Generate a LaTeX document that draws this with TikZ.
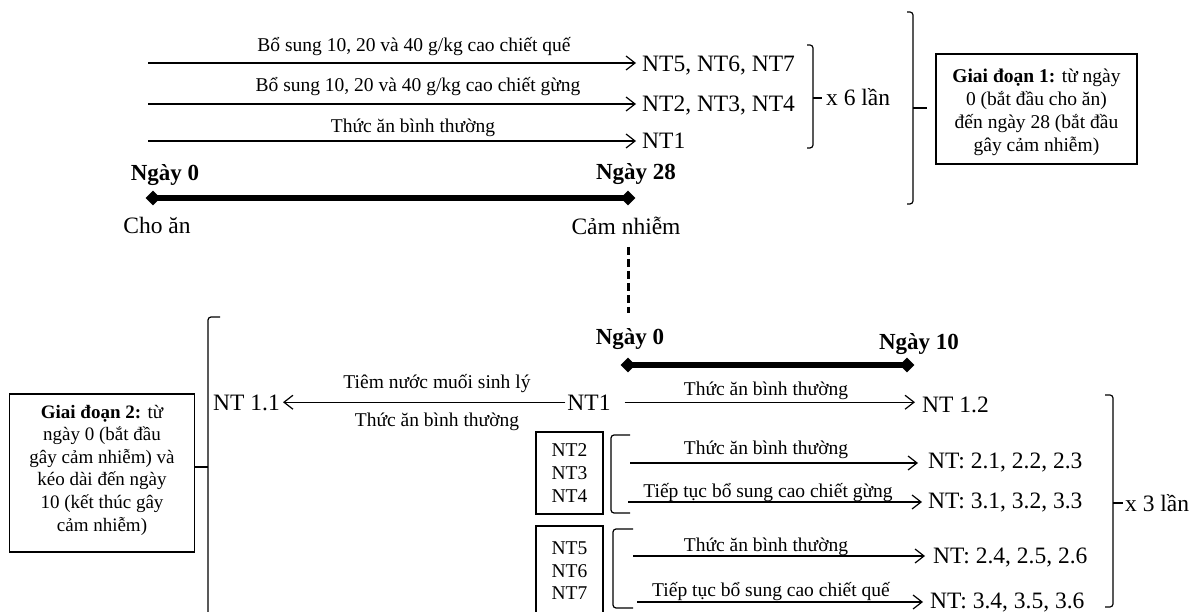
\documentclass[tikz,border=0pt]{standalone}
\usepackage{fontspec}
\setmainfont{Liberation Serif}
\usetikzlibrary{arrows.meta,shapes.geometric}
\newcommand\szA{\fontsize{23.5pt}{28pt}\selectfont}
\newcommand\szB{\fontsize{19.5pt}{22.6pt}\selectfont}
\newcommand\szD{\fontsize{19.5pt}{23pt}\selectfont}
\newcommand\szC{\fontsize{19pt}{22.6pt}\selectfont}
\newcommand\szN{\fontsize{23pt}{27pt}\selectfont\bfseries}
\begin{document}
\begin{tikzpicture}[x=1pt,y=-1pt,
  txt/.style={inner sep=0pt, font=\szA},
  lbl/.style={inner sep=0pt, font=\szB},
  day/.style={inner sep=0pt, font=\szN},
  flow/.style={line width=1.2pt, -{Straight Barb[length=9pt,width=14pt]}},
  ln/.style={line width=1.2pt},
  tl/.style={line width=5.5pt},
  dia/.style={diamond, fill=black, inner sep=0pt, minimum size=15pt},
  brk/.style={line width=1.2pt, rounded corners=3pt},
  dsh/.style={line width=3pt, dash pattern=on 8pt off 4pt},
  frame/.style={draw, line width=1.3pt, inner sep=0pt},
  boxtxt/.style={inner sep=0pt, align=center, font=\szD},
  boxtxtb/.style={inner sep=0pt, align=center, font=\szC},
  ntbox/.style={draw, line width=1.3pt, inner sep=0pt, align=center, font=\szB}
]
\useasboundingbox[fill=white] (0,0) rectangle (1195,612);

% ---------- Stage 1 ----------
\coordinate (s1) at (148,63);
\coordinate (s2) at (148,104);
\coordinate (s3) at (148,141);
\node[txt, anchor=base west] (r1) at (642,72) {NT5, NT6, NT7};
\node[txt, anchor=base west] (r2) at (642,112) {NT2, NT3, NT4};
\node[txt, anchor=base west] (r3) at (642,149) {NT1};
\draw[flow, shorten >=6pt] (s1) -- (s1 -| r1.west);
\draw[flow, shorten >=6pt] (s2) -- (s2 -| r2.west);
\draw[flow, shorten >=6pt] (s3) -- (s3 -| r3.west);
\node[lbl, anchor=base] (l1) at (414,52) {Bổ sung 10, 20 và 40 g/kg cao chiết quế};
\node[lbl, anchor=base] (l2) at (418,92) {Bổ sung 10, 20 và 40 g/kg cao chiết gừng};
\node[lbl, anchor=base] (l3) at (413,133) {Thức ăn bình thường};

\draw[brk] (807,45) -- (813,45) -- (813,148) -- (807,148);
\draw[ln] (813,98) -- (822,98);
\node[txt, anchor=base west] (x6) at (826,106) {x 6 lần};

\draw[brk] (907,12) -- (913,12) -- (913,204) -- (907,204);
\draw[ln] (913,108) -- (927,108);
\node[frame, minimum width=201pt, minimum height=110pt] (g1) at (1036.5,109) {};
\node[boxtxt] (g1t) at (1036.5,112.5)
  {\textbf{Giai đoạn 1:} từ ngày\\0 (bắt đầu cho ăn)\\đến ngày 28 (bắt đầu\\gây cảm nhiễm)};

\node[day, anchor=base] (d0) at (165,181) {Ngày 0};
\node[day, anchor=base] (d28) at (636,180) {Ngày 28};
\node[dia] (p0) at (153,198) {};
\node[dia] (p28) at (628,198) {};
\draw[tl] (p0.center) -- (p28.center);
\node[txt, anchor=base] (c0) at (157,234) {Cho ăn};
\node[txt, anchor=base] (c28) at (626,235) {Cảm nhiễm};

\coordinate (ds) at (628,247);
\coordinate (de) at (628,313);
\draw[dsh] (ds) -- (de);

% ---------- Stage 2 ----------
\node[day, anchor=base] (e0) at (630,345) {Ngày 0};
\node[day, anchor=base] (e10) at (919,350) {Ngày 10};
\node[dia] (q0) at (628,365) {};
\node[dia] (q10) at (907,365) {};
\draw[tl] (q0.center) -- (q10.center);

\node[txt, anchor=base] (n1) at (589,410) {NT1};
\node[txt, anchor=base east] (n11) at (280,411) {NT 1.1};
\draw[flow, shorten <=2pt, shorten >=3pt] (n1.west) -- (n1.west -| n11.east);
\node[lbl, anchor=base] (t1) at (437,389) {Tiêm nước muối sinh lý};
\node[lbl, anchor=base] (t2) at (437,427) {Thức ăn bình thường};

\node[txt, anchor=base west] (n12) at (922,413) {NT 1.2};
\draw[flow, shorten <=14pt, shorten >=7pt] (n1.east) -- (n1.east -| n12.west);
\node[lbl, anchor=base] (t3) at (766,396) {Thức ăn bình thường};

\node[ntbox, minimum width=67pt, minimum height=82pt] (b1) at (569.5,473) {NT2\\NT3\\NT4};
\node[ntbox, minimum width=67pt, minimum height=90pt] (b2) at (569.5,571) {NT5\\NT6\\NT7};

\draw[brk] (630,435) -- (611,435) -- (611,513) -- (630,513);
\draw[brk] (633,529) -- (613,529) -- (613,608) -- (633,608);

\coordinate (sA) at (630,463);
\coordinate (sB) at (628,502);
\coordinate (sC) at (633,556);
\coordinate (sD) at (637,602);
\node[txt, anchor=base west] (rA) at (928,468) {NT: 2.1, 2.2, 2.3};
\node[txt, anchor=base west] (rB) at (928,508) {NT: 3.1, 3.2, 3.3};
\node[txt, anchor=base west] (rC) at (933,563) {NT: 2.4, 2.5, 2.6};
\node[txt, anchor=base west] (rD) at (930,608) {NT: 3.4, 3.5, 3.6};
\draw[flow, shorten >=10pt] (sA) -- (sA -| rA.west);
\draw[flow, shorten >=6pt] (sB) -- (sB -| rB.west);
\draw[flow, shorten >=8pt] (sC) -- (sC -| rC.west);
\draw[flow, shorten >=7pt] (sD) -- (sD -| rD.west);
\node[lbl, anchor=base] (tA) at (766,454) {Thức ăn bình thường};
\node[lbl, anchor=base] (tB) at (768,497) {Tiếp tục bổ sung cao chiết gừng};
\node[lbl, anchor=base] (tC) at (766,551) {Thức ăn bình thường};
\node[lbl, anchor=base] (tD) at (771,596) {Tiếp tục bổ sung cao chiết quế};

\draw[brk] (1105,395) -- (1113,395) -- (1113,607) -- (1105,607);
\draw[ln] (1113,503) -- (1123,503);
\node[txt, anchor=base west] (x3) at (1125,511) {x 3 lần};

\draw[brk] (220,317) -- (208,317) -- (208,625);
\draw[ln] (208,467) -- (194,467);
\node[frame, minimum width=185pt, minimum height=158pt] (g2) at (102,473) {};
\node[boxtxtb] (g2t) at (102,470)
  {\textbf{Giai đoạn 2:} từ\\ngày 0 (bắt đầu\\gây cảm nhiễm) và\\kéo dài đến ngày\\10 (kết thúc gây\\cảm nhiễm)};
\end{tikzpicture}
\end{document}
